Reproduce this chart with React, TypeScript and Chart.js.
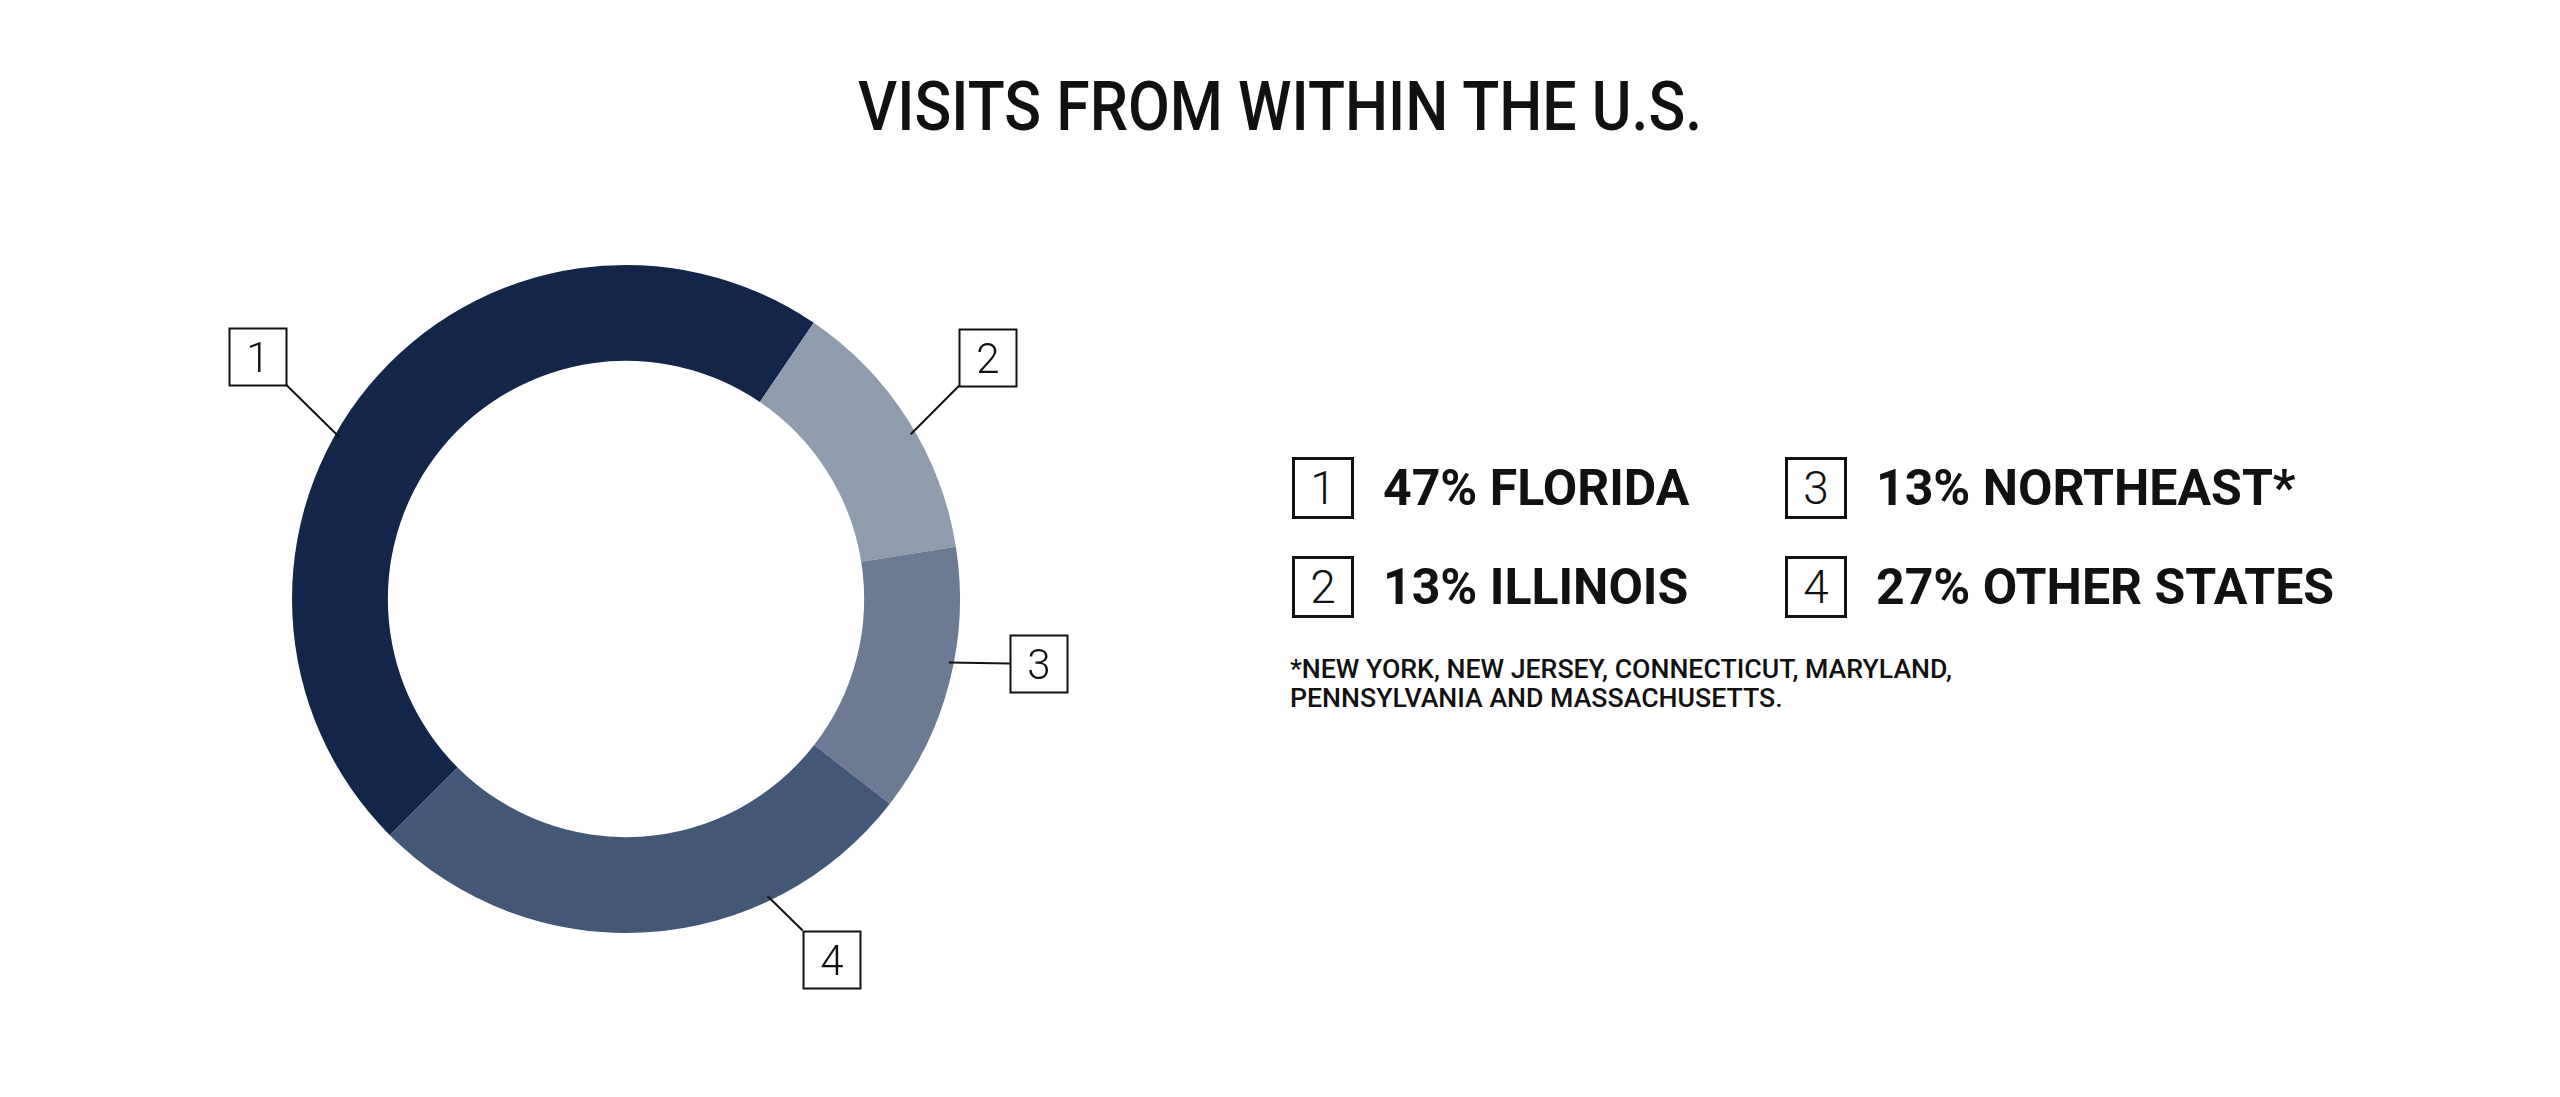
import React, { useEffect, useRef } from "react";
import { Chart, registerables } from "chart.js";

Chart.register(...registerables);

// ---- data ----
const categories = ["FLORIDA", "ILLINOIS", "NORTHEAST*", "OTHER STATES"];
const shares = [47, 13, 13, 27];
const markers = ["1", "2", "3", "4"];
const sliceColors = ["#13264a", "#8f9cae", "#6c7b93", "#435876"];
const titleText = "VISITS FROM WITHIN THE U.S.";
const footnoteLines = [
  "*NEW YORK, NEW JERSEY, CONNECTICUT, MARYLAND,",
  "PENNSYLVANIA AND MASSACHUSETTS.",
];
// legend order (grid: column-major)
const legendOrder = [0, 1, 2, 3];

// ---- styles for callouts (position along slice, box attach corner, offset) ----
const calloutStyle = [
  { frac: 0.44, corner: "br", dx: -49, dy: -50 },
  { frac: 0.55, corner: "bl", dx: 44, dy: -46 },
  { frac: 0.43, corner: "lm", dx: 56, dy: 0 },
  { frac: 0.275, corner: "tl", dx: 33, dy: 30 },
];

const INK = "#111111";

const calloutPlugin = {
  id: "callouts",
  afterDatasetsDraw(chart: any) {
    const ctx = chart.ctx as CanvasRenderingContext2D;
    const meta = chart.getDatasetMeta(0);
    const S = 57;
    ctx.save();
    meta.data.forEach((arc: any, i: number) => {
      const p = arc.getProps(["x", "y", "startAngle", "endAngle", "outerRadius"], true);
      const st = calloutStyle[i];
      const a = p.startAngle + st.frac * (p.endAngle - p.startAngle);
      const ax = p.x + p.outerRadius * Math.cos(a);
      const ay = p.y + p.outerRadius * Math.sin(a);
      const sx = p.x + (p.outerRadius - 5) * Math.cos(a);
      const sy = p.y + (p.outerRadius - 5) * Math.sin(a);
      const bx = ax + st.dx;
      const by = ay + st.dy;
      let left = bx;
      let top = by;
      if (st.corner === "br") { left = bx - S; top = by - S; }
      else if (st.corner === "bl") { left = bx; top = by - S; }
      else if (st.corner === "lm") { left = bx; top = by - S / 2; }
      else { left = bx; top = by; }
      left = Math.round(left) + 0.5;
      top = Math.round(top) + 0.5;
      ctx.strokeStyle = INK;
      ctx.lineWidth = 2;
      ctx.beginPath();
      ctx.moveTo(sx, sy);
      ctx.lineTo(bx, by);
      ctx.stroke();
      ctx.fillStyle = "#ffffff";
      ctx.fillRect(left, top, S, S);
      ctx.strokeRect(left, top, S, S);
      ctx.font = "300 42px Roboto, 'Noto Sans', sans-serif";
      ctx.fillStyle = INK;
      ctx.textAlign = "center";
      ctx.textBaseline = "alphabetic";
      const m = ctx.measureText(markers[i]);
      const h = m.actualBoundingBoxAscent;
      ctx.fillText(markers[i], left + S / 2, top + S / 2 + h / 2);
    });
    ctx.restore();
  },
};

function DonutChart() {
  const ref = useRef<HTMLCanvasElement | null>(null);
  useEffect(() => {
    if (!ref.current) return;
    const chart = new Chart(ref.current, {
      type: "doughnut",
      data: {
        labels: categories,
        datasets: [
          {
            data: shares,
            backgroundColor: sliceColors,
            borderWidth: 0,
            hoverOffset: 0,
          },
        ],
      },
      options: {
        responsive: false,
        animation: false,
        devicePixelRatio: 1,
        rotation: -135,
        cutout: "71.3%",
        layout: { padding: { left: 292, right: 240, top: 265, bottom: 164 } },
        plugins: {
          legend: { display: false },
          tooltip: { enabled: false },
          title: { display: false },
        },
        events: [],
      },
      plugins: [calloutPlugin],
    });
    return () => chart.destroy();
  }, []);
  return (
    <canvas
      ref={ref}
      width={1200}
      height={1097}
      style={{ position: "absolute", left: 0, top: 0, width: 1200, height: 1097 }}
    />
  );
}

function LegendItem({ idx, left, top }: { idx: number; left: number; top: number }) {
  return (
    <div
      style={{
        position: "absolute",
        left,
        top,
        height: 62,
        display: "flex",
        alignItems: "center",
        whiteSpace: "nowrap",
      }}
    >
      <div
        style={{
          width: 62,
          height: 62,
          boxSizing: "border-box",
          border: `3px solid ${INK}`,
          display: "flex",
          alignItems: "center",
          justifyContent: "center",
          font: "300 46px Roboto, 'Noto Sans', sans-serif",
          lineHeight: 1,
          color: INK,
        }}
      >
        {markers[idx]}
      </div>
      <div
        style={{
          marginLeft: 29,
          font: "700 50px Roboto, 'Noto Sans', sans-serif",
          lineHeight: 1,
          color: INK,
        }}
      >
        {`${shares[idx]}% ${categories[idx]}`}
      </div>
    </div>
  );
}

export default function App() {
  const pos = [
    { left: 1292, top: 457 },
    { left: 1292, top: 556 },
    { left: 1785, top: 457 },
    { left: 1785, top: 556 },
  ];
  return (
    <div
      style={{
        position: "fixed",
        left: 0,
        top: 0,
        width: 2560,
        height: 1097,
        background: "#ffffff",
        overflow: "hidden",
        fontFamily: "Roboto, 'Noto Sans', sans-serif",
      }}
    >
      <div
        style={{
          position: "absolute",
          left: 0,
          top: 73,
          width: 2560,
          textAlign: "center",
          font: "500 68px Roboto, 'Noto Sans', sans-serif",
          lineHeight: 1,
          color: INK,
          transform: "scaleX(0.894)",
          transformOrigin: "1281px 0",
          whiteSpace: "nowrap",
        }}
      >
        {titleText}
      </div>
      <DonutChart />
      {legendOrder.map((idx, k) => (
        <LegendItem key={idx} idx={idx} left={pos[k].left} top={pos[k].top} />
      ))}
      <div
        style={{
          position: "absolute",
          left: 1290,
          top: 655,
          font: "500 26.7px Roboto, 'Noto Sans', sans-serif",
          lineHeight: "29px",
          color: INK,
          whiteSpace: "nowrap",
        }}
      >
        {footnoteLines.map((l, i) => (
          <div key={i}>{l}</div>
        ))}
      </div>
    </div>
  );
}
